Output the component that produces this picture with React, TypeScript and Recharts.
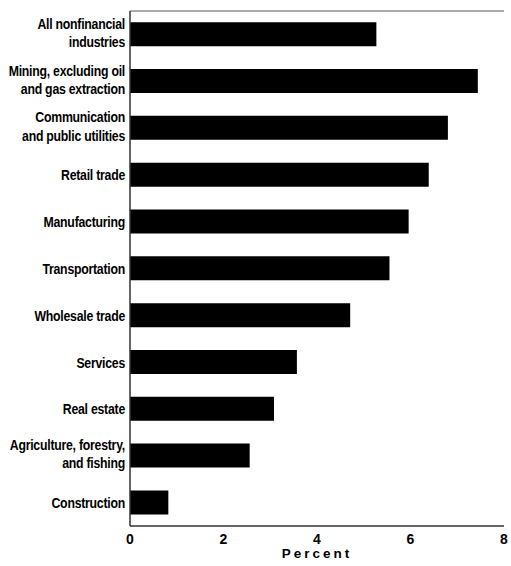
import React from "react";
import {
  BarChart,
  Bar,
  XAxis,
  YAxis,
  Label,
} from "recharts";

const industries = [
  "All nonfinancial\nindustries",
  "Mining, excluding oil\nand gas extraction",
  "Communication\nand public utilities",
  "Retail trade",
  "Manufacturing",
  "Transportation",
  "Wholesale trade",
  "Services",
  "Real estate",
  "Agriculture, forestry,\nand fishing",
  "Construction",
];
const percents = [5.27, 7.44, 6.8, 6.39, 5.96, 5.55, 4.71, 3.57, 3.08, 2.56, 0.82];
const percentTicks = [0, 2, 4, 6, 8];

const data = industries.map((name, i) => ({ name, value: percents[i] }));

const font = "'Liberation Sans', Arial, sans-serif";

// tall condensed bold labels, right aligned against the axis
const IndustryTick = (props: any) => {
  const { x, y, payload } = props;
  const lines = String(payload.value).split("\n");
  const lineHeight = 18;
  const startDy = -((lines.length - 1) * lineHeight) / 2 - (lines.length > 1 ? 2 : 0);
  const tx = x + 3;
  return (
    <text
      x={tx}
      y={y}
      textAnchor="end"
      fill="#000"
      fontSize={15}
      fontWeight="bold"
      fontFamily={font}
      letterSpacing={-0.3}
      dominantBaseline="central"
      transform={`translate(${tx} 0) scale(0.82 1) translate(${-tx} 0)`}
    >
      {lines.map((line, i) => (
        <tspan key={i} x={tx} dy={i === 0 ? startDy : lineHeight}>
          {line}
        </tspan>
      ))}
    </text>
  );
};

export default function App() {
  return (
    <div style={{ position: "absolute", left: 0, top: 0, background: "#fff" }}>
      <BarChart
        width={511}
        height={566}
        data={data}
        layout="vertical"
        margin={{ top: 10, right: 7, bottom: 0, left: 0 }}
        barCategoryGap="24%"
      >
        <XAxis
          type="number"
          domain={[0, 8]}
          ticks={percentTicks}
          height={40}
          tickLine={false}
          axisLine={{ stroke: "#333", strokeWidth: 1.5 }}
          tick={{ fill: "#000", fontSize: 14, fontWeight: "bold", fontFamily: font }}
        >
          <Label
            value="Percent"
            position="insideBottom"
            offset={8}
            style={{
              fill: "#000",
              fontSize: 13.5,
              fontWeight: "bold",
              letterSpacing: 3,
              fontFamily: font,
            }}
          />
        </XAxis>
        <XAxis
          xAxisId="top"
          orientation="top"
          type="number"
          domain={[0, 8]}
          height={1}
          tick={false}
          tickLine={false}
          axisLine={{ stroke: "#555", strokeWidth: 1 }}
        />
        <YAxis
          type="category"
          dataKey="name"
          width={130}
          tickLine={false}
          interval={0}
          axisLine={{ stroke: "#333", strokeWidth: 1.5 }}
          tick={<IndustryTick />}
        />
        <Bar dataKey="value" fill="#000" isAnimationActive={false} />
      </BarChart>
    </div>
  );
}
